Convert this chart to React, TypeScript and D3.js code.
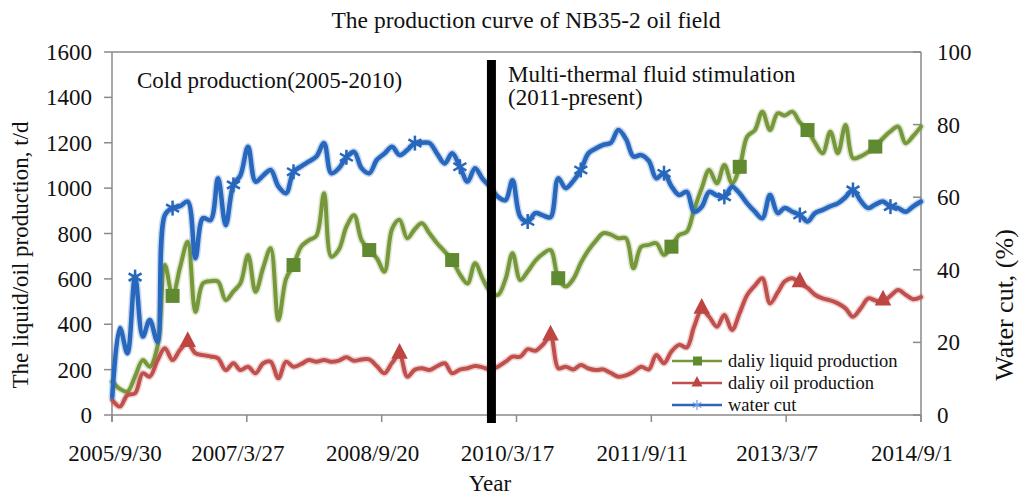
import React from "react";
import * as d3 from "d3";

const startMonth = "2005-10";
const liquid = [147,115,103,170,242,213,301,661,525,650,764,455,580,590,588,507,545,580,705,543,650,735,419,600,661,742,770,790,977,698,730,830,880,771,727,690,632,820,860,779,820,845,800,757,720,683,620,580,669,600,545,529,600,713,595,632,680,710,727,603,566,600,670,727,770,801,795,779,779,647,742,750,757,705,742,793,808,904,1000,1080,1021,1102,1021,1094,1227,1256,1337,1256,1330,1320,1337,1290,1256,1200,1154,1249,1154,1278,1132,1140,1160,1183,1220,1250,1271,1198,1230,1271];
const oil = [66,37,88,96,184,169,240,294,242,287,316,272,264,258,250,198,228,198,213,184,228,235,162,235,213,225,242,235,242,235,240,254,239,245,245,215,184,230,264,169,200,206,198,215,228,184,200,206,216,210,201,213,235,257,257,290,283,310,345,206,213,201,220,205,198,201,185,169,175,191,213,201,264,228,280,309,298,389,463,433,389,441,375,450,529,570,603,492,540,588,603,580,560,530,514,505,492,470,433,470,514,505,499,525,551,530,510,520];
const waterCut = [5,24,17,38,21.6,26.2,20.2,55.1,57,57.5,58.8,43.2,54.2,53.7,65.2,52.3,63.4,66,73.9,64.3,66,67.5,63,61.1,67,68.5,69.8,71.2,74.9,66.6,68,71,72.5,68,66.6,70.3,72,73.9,71.6,73,74.9,75,74.9,72,69.3,72.1,68.4,64.3,68,65,62.9,60.1,59.2,64.7,54.6,53.3,55.6,55,54.5,65.2,62.5,64.5,67.5,72.1,73.5,74.4,75,78.5,76,71.2,71.6,70,65.2,66.6,63,60.6,61.5,56,57.4,61.5,60.5,60.1,62.9,61,58.3,56,54.2,60.6,55.6,57,56,55.1,53.3,55.6,56.5,57.5,58.3,60,62,59,57,58,58.8,57.4,57,56,57.5,58.8];

const liquidMarkers = [8, 24, 34, 45, 59, 74, 83, 92, 101];
const oilMarkers = [10, 38, 58, 78, 91, 102];
const waterMarkers = [3, 8, 16, 24, 31, 40, 46, 55, 62, 73, 81, 91, 98, 103];

const xTickLabels = ["2005/9/30", "2007/3/27", "2008/9/20", "2010/3/17", "2011/9/11", "2013/3/7", "2014/9/1"];
const leftTicks = [0, 200, 400, 600, 800, 1000, 1200, 1400, 1600];
const rightTicks = [0, 20, 40, 60, 80, 100];
const dividerDate = "2009-12-06";

const title = "The production curve of NB35-2 oil field";
const leftLabel = "The liquid/oil production, t/d";
const rightLabel = "Water cut, (%)";
const xLabel = "Year";
const coldText = "Cold production(2005-2010)";
const thermalText = ["Multi-thermal fluid stimulation", "(2011-present)"];
const legendItems = ["daliy liquid production", "daliy oil production", "water cut"];

const FONT = "'Liberation Serif', 'Times New Roman', serif";
const GREEN = "#76983a";
const GREEN_M = "#5f8a2f";
const RED = "#c0504d";
const RED_M = "#bd4643";
const BLUE = "#2767bd";
const AXIS = "#8a8a8a";

const W = 1020, H = 497;
const L = 112, R = 921, T = 52, B = 415;

const parseYMD = d3.timeParse("%Y/%m/%d");
const parseISO = d3.timeParse("%Y-%m-%d");
const parseMonth = d3.timeParse("%Y-%m");

function Asterisk({ x, y, r, color, w }: { x: number; y: number; r: number; color: string; w: number }) {
  const segs = [0, 60, 120].map((a) => {
    const rad = (a * Math.PI) / 180;
    const dx = Math.sin(rad) * r, dy = -Math.cos(rad) * r;
    return <line key={a} x1={x - dx} y1={y - dy} x2={x + dx} y2={y + dy} stroke={color} strokeWidth={w} />;
  });
  return <g>{segs}</g>;
}

export default function App() {
  const m0 = parseMonth(startMonth)!;
  const dates = liquid.map((_, i) => d3.timeMonth.offset(m0, i));
  const tickDates = xTickLabels.map((s) => parseYMD(s)!);
  const x = d3.scaleTime().domain([tickDates[0], tickDates[tickDates.length - 1]]).range([L, R]);
  const yL = d3.scaleLinear().domain([0, 1600]).range([B, T]);
  const yR = d3.scaleLinear().domain([0, 100]).range([B, T]);

  const curve = d3.curveCatmullRom.alpha(0.5);
  const lineL = d3.line<number>().x((_, i) => x(dates[i])).y((v) => yL(v)).curve(curve);
  const lineR = d3.line<number>().x((_, i) => x(dates[i])).y((v) => yR(v)).curve(curve);

  const divX = x(parseISO(dividerDate)!);

  const tri = (cx: number, cy: number, s: number) =>
    `M${cx},${cy - s * 0.6}L${cx + s * 0.55},${cy + s * 0.45}L${cx - s * 0.55},${cy + s * 0.45}Z`;

  const legendY = [361, 383, 405];

  return (
    <svg width={W} height={H} style={{ position: "absolute", left: 0, top: 0, background: "#fff" }} fontFamily={FONT}>
      <rect x={0} y={0} width={W} height={H} fill="#fff" />
      <text x={526} y={28} fontSize={23.5} textAnchor="middle" fill="#111">{title}</text>

      {/* plot border */}
      <line x1={L} y1={T} x2={R} y2={T} stroke={AXIS} strokeWidth={1.5} />
      <line x1={R} y1={T} x2={R} y2={B + 7} stroke={AXIS} strokeWidth={1.5} />
      <line x1={L} y1={T} x2={L} y2={B + 7} stroke={AXIS} strokeWidth={1.5} />
      <line x1={L} y1={B} x2={R} y2={B} stroke={AXIS} strokeWidth={1.5} />

      {leftTicks.map((v) => (
        <g key={"l" + v}>
          <line x1={L - 8} x2={L} y1={yL(v)} y2={yL(v)} stroke={AXIS} strokeWidth={1.5} />
          <text x={92} y={yL(v)} dy="0.35em" fontSize={23} textAnchor="end" fill="#111">{v}</text>
        </g>
      ))}
      {rightTicks.map((v) => (
        <g key={"r" + v}>
          <line x1={R - 8} x2={R} y1={yR(v)} y2={yR(v)} stroke={AXIS} strokeWidth={1.5} />
          <text x={937} y={yR(v)} dy="0.35em" fontSize={23} textAnchor="start" fill="#111">{v}</text>
        </g>
      ))}
      {tickDates.map((d, i) => (
        <g key={"x" + i}>
          <line x1={x(d)} x2={x(d)} y1={B} y2={B + 7} stroke={AXIS} strokeWidth={1.5} />
          <text x={x(d) + (i === 0 ? 3 : -9)} y={461} fontSize={23} textAnchor="middle" fill="#111">{xTickLabels[i]}</text>
        </g>
      ))}

      <text x={490} y={491} fontSize={23} textAnchor="middle" fill="#111">{xLabel}</text>
      <text transform="translate(28,255) rotate(-90)" fontSize={23} textAnchor="middle" fill="#111">{leftLabel}</text>
      <text transform="translate(1013,305) rotate(-90)" fontSize={26} textAnchor="middle" fill="#111">{rightLabel}</text>

      {/* series */}
      <g fill="none" strokeLinejoin="round" strokeLinecap="round">
        <path d={lineL(liquid) || ""} stroke={GREEN} strokeWidth={7} opacity={0.25} />
        <path d={lineL(liquid) || ""} stroke={GREEN} strokeWidth={4} />
        <path d={lineL(oil) || ""} stroke={RED} strokeWidth={7} opacity={0.25} />
        <path d={lineL(oil) || ""} stroke={RED} strokeWidth={4} />
        <path d={lineR(waterCut) || ""} stroke={BLUE} strokeWidth={7.5} opacity={0.25} />
        <path d={lineR(waterCut) || ""} stroke={BLUE} strokeWidth={4.5} />
      </g>
      {liquidMarkers.map((i) => (
        <rect key={"lm" + i} x={x(dates[i]) - 7} y={yL(liquid[i]) - 7} width={14} height={14} fill={GREEN_M} />
      ))}
      {oilMarkers.map((i) => (
        <path key={"om" + i} d={tri(x(dates[i]), yL(oil[i]) - 3, 15)} fill={RED_M} />
      ))}
      {waterMarkers.map((i) => (
        <Asterisk key={"wm" + i} x={x(dates[i])} y={yR(waterCut[i])} r={7.5} color={BLUE} w={2.5} />
      ))}

      {/* divider */}
      <rect x={divX - 4.5} y={60} width={9} height={363} fill="#000" />

      <text x={137} y={88} fontSize={23} fill="#111">{coldText}</text>
      <text x={508} y={82} fontSize={23} fill="#111">{thermalText[0]}</text>
      <text x={508} y={105} fontSize={23} fill="#111">{thermalText[1]}</text>

      {/* legend */}
      <g>
        <line x1={672} x2={722} y1={legendY[0]} y2={legendY[0]} stroke={GREEN} strokeWidth={2.5} />
        <rect x={693} y={legendY[0] - 4.5} width={9} height={9} fill={GREEN_M} />
        <line x1={672} x2={722} y1={legendY[1]} y2={legendY[1]} stroke={RED} strokeWidth={2.5} />
        <path d={tri(697, legendY[1] - 1, 10)} fill={RED_M} />
        <line x1={672} x2={722} y1={legendY[2]} y2={legendY[2]} stroke={BLUE} strokeWidth={2.5} />
        <Asterisk x={697} y={legendY[2]} r={5} color="#6a9be0" w={1.2} />
        {legendItems.map((t, i) => (
          <text key={t} x={728} y={legendY[i]} dy="0.35em" fontSize={18.5} fill="#111">{t}</text>
        ))}
      </g>
    </svg>
  );
}
